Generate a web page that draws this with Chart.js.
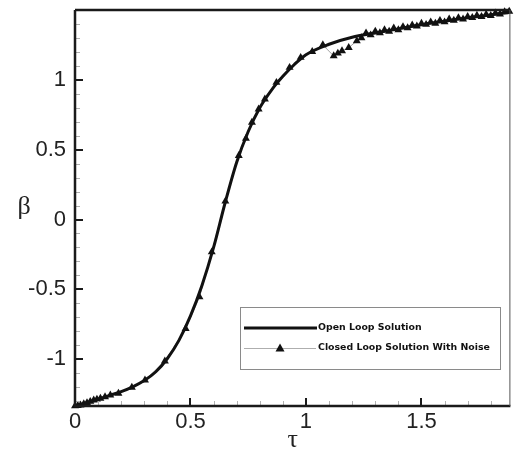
<!DOCTYPE html>
<html>
<head>
<meta charset="utf-8">
<script src="https://cdn.jsdelivr.net/npm/chart.js@4.4.1/dist/chart.umd.min.js"></script>
<style>
  html, body { margin: 0; padding: 0; background: #fff; }
  #wrap { width: 515px; height: 454px; }
</style>
</head>
<body>
<div id="wrap"><canvas id="c" width="515" height="454"></canvas></div>
<script>
// Open loop solution: beta versus tau
const openTau  = [0, 0.05, 0.1, 0.15, 0.2, 0.25, 0.3, 0.35, 0.4, 0.45, 0.5, 0.55, 0.6, 0.65, 0.7, 0.75, 0.8, 0.85, 0.9, 0.95, 1.0, 1.1, 1.2, 1.3, 1.4, 1.5, 1.6, 1.7, 1.8, 1.885];
const openBeta = [-1.335, -1.313, -1.287, -1.259, -1.232, -1.198, -1.153, -1.09, -0.995, -0.865, -0.69, -0.47, -0.2, 0.12, 0.41, 0.63, 0.8, 0.925, 1.025, 1.11, 1.18, 1.255, 1.305, 1.335, 1.365, 1.395, 1.42, 1.445, 1.465, 1.485];

// Closed loop solution with measurement noise
const closedTau  = [0.0, 0.012, 0.024, 0.038, 0.052, 0.066, 0.081, 0.095, 0.11, 0.13, 0.153, 0.188, 0.246, 0.303, 0.389, 0.479, 0.539, 0.592, 0.651, 0.709, 0.74, 0.766, 0.795, 0.822, 0.872, 0.929, 0.977, 1.027, 1.073, 1.12, 1.138, 1.156, 1.185, 1.22, 1.24,
  1.26, 1.28, 1.30, 1.32, 1.34, 1.36, 1.38, 1.40, 1.42, 1.44, 1.46, 1.48, 1.50, 1.52, 1.54, 1.56, 1.58, 1.60, 1.62, 1.64, 1.66, 1.68, 1.70, 1.72, 1.74, 1.76, 1.78, 1.80, 1.82, 1.84, 1.86, 1.88];
const closedBeta = [-1.335, -1.333, -1.329, -1.32, -1.312, -1.303, -1.293, -1.287, -1.281, -1.27, -1.257, -1.245, -1.202, -1.15, -1.014, -0.781, -0.555, -0.233, 0.131, 0.457, 0.58, 0.695, 0.79, 0.862, 0.981, 1.088, 1.16, 1.202, 1.25, 1.171, 1.19, 1.207, 1.23, 1.279, 1.30,
  1.335, 1.321, 1.348, 1.336, 1.357, 1.347, 1.370, 1.358, 1.380, 1.372, 1.392, 1.384, 1.404, 1.396, 1.414, 1.404, 1.425, 1.414, 1.434, 1.426, 1.444, 1.434, 1.452, 1.445, 1.461, 1.452, 1.468, 1.460, 1.477, 1.470, 1.486, 1.490];

// Axis ranges and labelled ticks
const tauRange  = [0, 1.885];
const betaRange = [-1.335, 1.5];
const tauTicks  = [0, 0.5, 1, 1.5];
const tauTickLabels  = ['0', '0.5', '1', '1.5'];
const betaTicks = [-1, -0.5, 0, 0.5, 1];
const betaTickLabels = ['-1', '-0.5', '0', '0.5', '1'];
const minorStep = 0.1;

const seriesNames = ['Open Loop Solution', 'Closed Loop Solution With Noise'];

const toPoints = (xs, ys) => xs.map((x, i) => ({ x: x, y: ys[i] }));

// Frame, inward tick marks, axis symbols and the boxed key
const framePlugin = {
  id: 'frame',
  afterDatasetsDraw(chart) {
    const ctx = chart.ctx;
    const a = chart.chartArea;
    const xs = chart.scales.x, ys = chart.scales.y;
    ctx.save();

    // minor ticks
    ctx.strokeStyle = '#b0b0b0';
    ctx.lineWidth = 1;
    ctx.beginPath();
    for (let v = Math.ceil(tauRange[0] / minorStep) * minorStep; v <= tauRange[1] + 1e-9; v += minorStep) {
      const r = Math.round(v * 10) / 10;
      if (tauTicks.some(t => Math.abs(t - r) < 1e-6)) continue;
      const px = Math.round(xs.getPixelForValue(r)) + 0.5;
      ctx.moveTo(px, a.bottom); ctx.lineTo(px, a.bottom - 5);
    }
    for (let v = Math.ceil(betaRange[0] / minorStep) * minorStep; v <= betaRange[1] + 1e-9; v += minorStep) {
      const r = Math.round(v * 10) / 10;
      if (betaTicks.some(t => Math.abs(t - r) < 1e-6)) continue;
      const py = Math.round(ys.getPixelForValue(r)) + 0.5;
      ctx.moveTo(a.left, py); ctx.lineTo(a.left + 5, py);
    }
    ctx.stroke();

    // major ticks
    ctx.strokeStyle = '#1a1a1a';
    ctx.lineWidth = 2;
    ctx.beginPath();
    tauTicks.forEach(t => {
      const px = Math.round(xs.getPixelForValue(t));
      ctx.moveTo(px, a.bottom); ctx.lineTo(px, a.bottom - 8);
    });
    betaTicks.forEach(t => {
      const py = Math.round(ys.getPixelForValue(t));
      ctx.moveTo(a.left, py); ctx.lineTo(a.left + 8, py);
    });
    ctx.stroke();

    // frame
    ctx.strokeStyle = '#1a1a1a';
    ctx.lineWidth = 2.5;
    ctx.beginPath();
    ctx.moveTo(a.left, a.top); ctx.lineTo(a.right, a.top);
    ctx.moveTo(a.left, a.top); ctx.lineTo(a.left, a.bottom);
    ctx.lineTo(a.right, a.bottom);
    ctx.stroke();
    ctx.strokeStyle = '#555';
    ctx.lineWidth = 1;
    ctx.beginPath();
    ctx.moveTo(a.right - 0.5, a.top); ctx.lineTo(a.right - 0.5, a.bottom);
    ctx.stroke();

    // axis symbols
    ctx.fillStyle = '#222';
    ctx.font = '26px "Liberation Serif", serif';
    ctx.textAlign = 'center';
    ctx.textBaseline = 'middle';
    ctx.fillText('β', 24, 207);
    ctx.fillText('τ', (a.left + a.right) / 2, 440);

    // key box
    const bx = 240.5, by = 307.5, bw = 260, bh = 62;
    ctx.fillStyle = '#fff';
    ctx.fillRect(bx, by, bw, bh);
    ctx.strokeStyle = '#8a8a8a';
    ctx.lineWidth = 1;
    ctx.strokeRect(bx, by, bw, bh);

    ctx.strokeStyle = '#111';
    ctx.lineWidth = 3;
    ctx.beginPath();
    ctx.moveTo(244, 328); ctx.lineTo(317, 328);
    ctx.stroke();

    ctx.strokeStyle = '#999';
    ctx.lineWidth = 0.8;
    ctx.beginPath();
    ctx.moveTo(244, 348.5); ctx.lineTo(316, 348.5);
    ctx.stroke();
    ctx.fillStyle = '#111';
    ctx.beginPath();
    ctx.moveTo(280, 343.5); ctx.lineTo(284.5, 351.5); ctx.lineTo(275.5, 351.5);
    ctx.closePath();
    ctx.fill();

    ctx.fillStyle = '#111';
    ctx.font = 'bold 9.4px "DejaVu Sans", sans-serif';
    ctx.textAlign = 'left';
    ctx.textBaseline = 'middle';
    ctx.fillText(seriesNames[0], 318, 328);
    ctx.fillText(seriesNames[1], 318, 348);

    ctx.restore();
  }
};

new Chart(document.getElementById('c'), {
  type: 'scatter',
  data: {
    datasets: [
      {
        label: seriesNames[1],
        data: toPoints(closedTau, closedBeta),
        showLine: true,
        borderColor: '#8c8c8c',
        borderWidth: 0.8,
        pointStyle: 'triangle',
        pointRadius: 4.6,
        pointBackgroundColor: '#111',
        pointBorderColor: '#111',
        pointBorderWidth: 0,
        tension: 0,
        clip: false,
        order: 2
      },
      {
        label: seriesNames[0],
        data: toPoints(openTau, openBeta),
        showLine: true,
        borderColor: '#111',
        borderWidth: 3,
        pointRadius: 0,
        cubicInterpolationMode: 'monotone',
        clip: false,
        order: 1
      }
    ]
  },
  options: {
    responsive: false,
    animation: false,
    devicePixelRatio: 1,
    layout: { padding: { top: 10, right: 2, left: 0, bottom: 0 } },
    plugins: { legend: { display: false }, tooltip: { enabled: false } },
    scales: {
      x: {
        type: 'linear',
        min: tauRange[0], max: tauRange[1],
        grid: { display: false, drawTicks: false },
        border: { display: false },
        afterBuildTicks: s => { s.ticks = tauTicks.map(v => ({ value: v })); },
        afterFit: s => { s.height = 48; s.paddingLeft = 0; s.paddingRight = 0; },
        ticks: {
          padding: 3,
          color: '#222',
          font: { family: '"Liberation Sans", Arial, sans-serif', size: 22 },
          callback: (v) => tauTickLabels[tauTicks.indexOf(v)]
        }
      },
      y: {
        type: 'linear',
        min: betaRange[0], max: betaRange[1],
        grid: { display: false, drawTicks: false },
        border: { display: false },
        afterBuildTicks: s => { s.ticks = betaTicks.map(v => ({ value: v })); },
        afterFit: s => { s.width = 75; s.paddingTop = 0; s.paddingBottom = 0; },
        ticks: {
          padding: 9,
          color: '#222',
          font: { family: '"Liberation Sans", Arial, sans-serif', size: 22 },
          callback: (v) => betaTickLabels[betaTicks.indexOf(v)]
        }
      }
    }
  },
  plugins: [framePlugin]
});
</script>
</body>
</html>
